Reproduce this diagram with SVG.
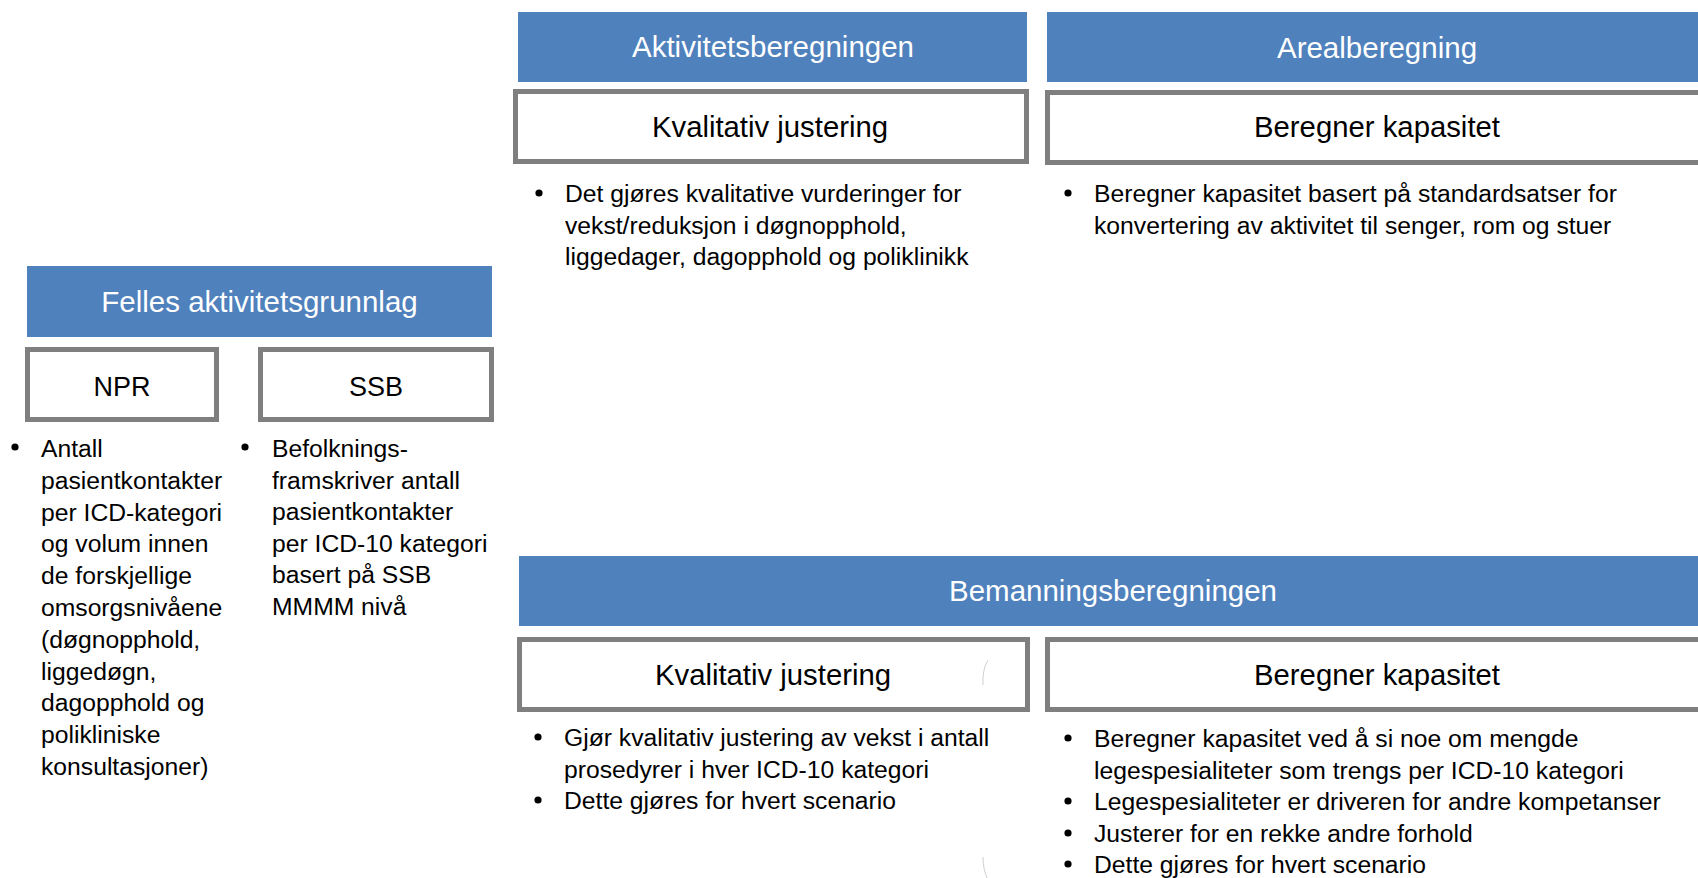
<svg xmlns="http://www.w3.org/2000/svg" width="1698" height="878" viewBox="0 0 1698 878">
<style>
.hdr{fill:#4f81bd}
.hdrt{fill:#ffffff;font-family:"Liberation Sans",Arial,sans-serif;font-size:29.5px;text-anchor:middle}
.box{fill:#ffffff;stroke:#7f7f7f;stroke-width:5}
.boxt{fill:#000000;font-family:"Liberation Sans",Arial,sans-serif;font-size:29.3px;text-anchor:middle}
.boxs{fill:#000000;font-family:"Liberation Sans",Arial,sans-serif;font-size:27px;text-anchor:middle}
.bt{fill:#000000;font-family:"Liberation Sans",Arial,sans-serif;font-size:24.7px}
.dot{fill:#000000}
.faint{fill:none;stroke:#d0d0d0;stroke-width:1}
</style>
<rect width="1698" height="878" fill="#ffffff"/>

<g id="felles">
<rect class="hdr" x="27" y="266" width="465" height="71"/>
<text class="hdrt" x="259.5" y="312">Felles aktivitetsgrunnlag</text>
</g>
<g id="npr">
<rect class="box" x="27.5" y="349.5" width="189" height="70"/>
<text class="boxs" x="122" y="396">NPR</text>
<circle class="dot" cx="15" cy="447" r="3.6"/>
<text class="bt">
<tspan x="41" y="457">Antall</tspan>
<tspan x="41" y="488.8">pasientkontakter</tspan>
<tspan x="41" y="520.6">per ICD-kategori</tspan>
<tspan x="41" y="552.4">og volum innen</tspan>
<tspan x="41" y="584.2">de forskjellige</tspan>
<tspan x="41" y="616">omsorgsnivåene</tspan>
<tspan x="41" y="647.8">(døgnopphold,</tspan>
<tspan x="41" y="679.6">liggedøgn,</tspan>
<tspan x="41" y="711.4">dagopphold og</tspan>
<tspan x="41" y="743.2">polikliniske</tspan>
<tspan x="41" y="775">konsultasjoner)</tspan>
</text>
</g>
<g id="ssb">
<rect class="box" x="260.5" y="349.5" width="231" height="70"/>
<text class="boxs" x="376" y="396">SSB</text>
<circle class="dot" cx="245" cy="447" r="3.6"/>
<text class="bt">
<tspan x="272" y="457">Befolknings-</tspan>
<tspan x="272" y="488.6">framskriver antall</tspan>
<tspan x="272" y="520.2">pasientkontakter</tspan>
<tspan x="272" y="551.8">per ICD-10 kategori</tspan>
<tspan x="272" y="583.4">basert på SSB</tspan>
<tspan x="272" y="615">MMMM nivå</tspan>
</text>
</g>

<g id="aktivitet">
<rect class="hdr" x="518" y="12" width="509" height="70"/>
<text class="hdrt" x="773" y="57">Aktivitetsberegningen</text>
</g>
<g id="aktivitet-kval">
<rect class="box" x="515.5" y="91.5" width="511" height="70"/>
<text class="boxt" x="770" y="137">Kvalitativ justering</text>
<circle class="dot" cx="539" cy="193" r="3.6"/>
<text class="bt">
<tspan x="565" y="202">Det gjøres kvalitative vurderinger for</tspan>
<tspan x="565" y="233.5">vekst/reduksjon i døgnopphold,</tspan>
<tspan x="565" y="265">liggedager, dagopphold og poliklinikk</tspan>
</text>
</g>

<g id="areal">
<rect class="hdr" x="1047" y="12" width="660" height="70"/>
<text class="hdrt" x="1377" y="58">Arealberegning</text>
</g>
<g id="areal-kap">
<rect class="box" x="1047.5" y="92.5" width="670" height="70"/>
<text class="boxt" x="1377" y="137">Beregner kapasitet</text>
<circle class="dot" cx="1068" cy="193" r="3.6"/>
<text class="bt">
<tspan x="1094" y="202">Beregner kapasitet basert på standardsatser for</tspan>
<tspan x="1094" y="233.5">konvertering av aktivitet til senger, rom og stuer</tspan>
</text>
</g>

<g id="bemanning">
<rect class="hdr" x="519" y="556" width="1190" height="70"/>
<text class="hdrt" x="1113" y="601">Bemanningsberegningen</text>
</g>
<g id="bemanning-kval">
<rect class="box" x="519.5" y="639.5" width="508" height="70"/>
<text class="boxt" x="773" y="685">Kvalitativ justering</text>
<circle class="dot" cx="538" cy="737" r="3.6"/>
<circle class="dot" cx="538" cy="800" r="3.6"/>
<text class="bt">
<tspan x="564" y="746">Gjør kvalitativ justering av vekst i antall</tspan>
<tspan x="564" y="777.5">prosedyrer i hver ICD-10 kategori</tspan>
<tspan x="564" y="809">Dette gjøres for hvert scenario</tspan>
</text>
</g>
<g id="bemanning-kap">
<rect class="box" x="1047.5" y="639.5" width="670" height="70"/>
<text class="boxt" x="1377" y="685">Beregner kapasitet</text>
<circle class="dot" cx="1068" cy="738" r="3.6"/>
<circle class="dot" cx="1068" cy="801" r="3.6"/>
<circle class="dot" cx="1068" cy="833" r="3.6"/>
<circle class="dot" cx="1068" cy="864" r="3.6"/>
<text class="bt">
<tspan x="1094" y="747">Beregner kapasitet ved å si noe om mengde</tspan>
<tspan x="1094" y="778.5">legespesialiteter som trengs per ICD-10 kategori</tspan>
<tspan x="1094" y="810">Legespesialiteter er driveren for andre kompetanser</tspan>
<tspan x="1094" y="842">Justerer for en rekke andre forhold</tspan>
<tspan x="1094" y="873">Dette gjøres for hvert scenario</tspan>
</text>
</g>

<g id="connectors">
<path class="faint" d="M988 660 Q982 670 983 685"/>
<path class="faint" d="M983 857 Q983 870 988 880"/>
</g>
</svg>
